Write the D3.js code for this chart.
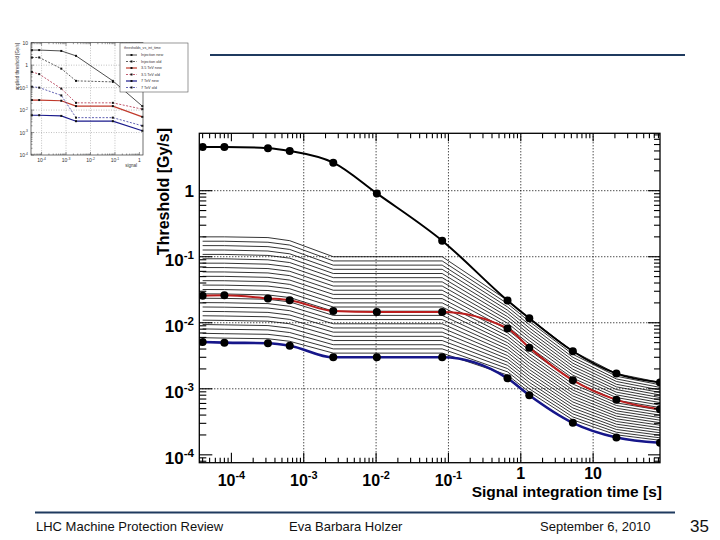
<!DOCTYPE html>
<html><head><meta charset="utf-8">
<script src="https://cdn.jsdelivr.net/npm/d3@7"></script>
<style>body{margin:0;background:#fff}svg{display:block}text{font-family:"Liberation Sans",Arial,sans-serif}</style>
</head><body><svg id="c" width="720" height="540"></svg>
<script>
// ---------- DATA ----------
// BLM running-sum integration times [s]
const times = [4e-5, 8e-5, 3.2e-4, 6.4e-4, 2.56e-3, 1.024e-2, 8.192e-2, 0.65536, 1.31072, 5.24288, 20.97152, 83.88608];
const topSeries  = [4.6, 4.6, 4.4, 4.0, 2.66, 0.91, 0.175, 0.0218, 0.0117, 0.0037, 0.0017, 0.00125];
const redSeries  = [0.0257, 0.026, 0.0234, 0.022, 0.0151, 0.0146, 0.0146, 0.0082, 0.0042, 0.00135, 0.00068, 0.00049];
const blueSeries = [0.0051, 0.0050, 0.0049, 0.0045, 0.0030, 0.0030, 0.0030, 0.00144, 0.0008, 0.000305, 0.000183, 0.000152];
// thin threshold lines (energy levels), values per integration time, lowest to highest
const bundle_40us  = [0.00594,0.00692,0.00807,0.0094,0.01095,0.01276,0.01487,0.01733,0.0202,0.0235,0.0274,0.0319,0.0372,0.0434,0.0505,0.0589,0.0686,0.0799,0.0931,0.1085,0.1264,0.1473,0.1717,0.2];
const bundle_80us  = [0.00585,0.00683,0.00797,0.0093,0.01085,0.01266,0.01477,0.01723,0.0201,0.0234,0.0273,0.0318,0.0371,0.0433,0.0504,0.0588,0.0685,0.0798,0.093,0.1084,0.1263,0.1472,0.1716,0.2];
const bundle_320us = [0.00573,0.00668,0.00779,0.00907,0.01057,0.01231,0.01435,0.01672,0.0195,0.0227,0.0264,0.0308,0.0359,0.0419,0.0487,0.0568,0.0662,0.0771,0.0898,0.1047,0.122,0.1421,0.1657,0.195];
const bundle_640us = [0.00524,0.00611,0.00711,0.00828,0.00965,0.01124,0.01309,0.01524,0.01776,0.0207,0.0241,0.0281,0.0327,0.0381,0.0443,0.0517,0.0602,0.0701,0.0816,0.0951,0.1107,0.129,0.1502,0.175];
const bundle_2ms   = [0.00347,0.00402,0.00465,0.00538,0.00623,0.00721,0.00834,0.00965,0.01117,0.01293,0.01496,0.01732,0.02,0.0232,0.0269,0.0311,0.036,0.0416,0.0482,0.0557,0.0645,0.0746,0.0864,0.1];
const bundle_10ms  = [0.00347,0.00402,0.00465,0.00538,0.00623,0.00721,0.00834,0.00965,0.01117,0.01293,0.01496,0.01732,0.02,0.0232,0.0269,0.0311,0.036,0.0416,0.0482,0.0557,0.0645,0.0746,0.0864,0.1];
const bundle_82ms  = [0.00347,0.00402,0.00465,0.00538,0.00623,0.00721,0.00834,0.00965,0.01117,0.01293,0.01496,0.01732,0.02,0.0232,0.0269,0.0311,0.036,0.0416,0.0482,0.0557,0.0645,0.0746,0.0864,0.1];
const bundle_655ms = [0.001613,0.001806,0.002023,0.002265,0.002537,0.002841,0.003181,0.003563,0.00399,0.00447,0.005,0.0056,0.00628,0.00703,0.00787,0.00881,0.00987,0.01105,0.01238,0.01386,0.01552,0.01739,0.01947,0.0218];
const bundle_1s    = [0.000895,0.001,0.00112,0.00125,0.0014,0.00156,0.00175,0.00196,0.00219,0.00245,0.00274,0.00306,0.00342,0.00383,0.00428,0.00478,0.00535,0.00598,0.00669,0.00748,0.00837,0.00936,0.01046,0.0117];
const bundle_5s    = [0.000338,0.000375,0.000417,0.000462,0.000513,0.000569,0.000632,0.000701,0.000778,0.000863,0.000957,0.00106,0.00118,0.00131,0.00145,0.00161,0.00179,0.00198,0.0022,0.00244,0.00271,0.003,0.00333,0.0037];
const bundle_21s   = [0.000201,0.00022,0.000242,0.000265,0.000291,0.00032,0.000351,0.000385,0.000422,0.000463,0.000508,0.000558,0.000612,0.000672,0.000737,0.000809,0.000888,0.000974,0.00107,0.00117,0.00129,0.00141,0.00155,0.0017];
const bundle_84s   = [0.000166,0.000181,0.000198,0.000216,0.000236,0.000257,0.000281,0.000307,0.000335,0.000366,0.000399,0.000436,0.000476,0.00052,0.000567,0.000619,0.000676,0.000738,0.000806,0.00088,0.00096,0.00105,0.00115,0.00125];

const xTickValues = [1e-4, 1e-3, 1e-2, 1e-1, 1, 10];
const xTickBase   = ["10","10","10","10","1","10"];
const xTickExp    = ["-4","-3","-2","-1","",""];
const yTickValues = [1e-4, 1e-3, 1e-2, 1e-1, 1];
const yTickBase   = ["10","10","10","10","1"];
const yTickExp    = ["-4","-3","-2","-1",""];
const xTitle = "Signal integration time [s]";
const yTitle = "Threshold [Gy/s]";
const footerTexts = ["LHC Machine Protection Review", "Eva Barbara Holzer", "September 6, 2010", "35"];

// thumbnail (inset) data
const insetTimes   = [4e-5, 8e-5, 6.4e-4, 2.56e-3, 8.192e-2, 1.31072];
const insetInjNew  = [4.7, 4.7, 4.3, 2.6, 0.2, 0.015];
const insetInjOld  = [2.2, 2.2, 0.7, 0.2, 0.18, null];
const inset35New   = [0.028, 0.028, 0.026, 0.015, 0.015, 0.005];
const inset35Old   = [0.5, 0.4, 0.09, 0.021, 0.021, 0.011];
const inset7New    = [0.0059, 0.0059, 0.0055, 0.0032, 0.0032, 0.0012];
const inset7Old    = [0.11, 0.1, 0.045, 0.0046, 0.0046, 0.002];
const insetNames   = ["Injection new","Injection old","3.5 TeV new","3.5 TeV old","7 TeV new","7 TeV old"];
const insetLegendTitle = "thresholds_vs_int_time";
const insetXTicks = [1e-4, 1e-3, 1e-2, 1e-1, 1];
const insetXBase  = ["10","10","10","10","1"];
const insetXExp   = ["-4","-3","-2","-1",""];
const insetYTicks = [1e-4, 1e-3, 1e-2, 1e-1, 1, 10];
const insetYBase  = ["10","10","10","10","1","10"];
const insetYExp   = ["-4","-3","-2","-1","",""];

// ---------- DRAW ----------
const svg = d3.select("#c");
svg.append("rect").attr("width",720).attr("height",540).attr("fill","#fff");

const NAVY = "#1f3a5f";
svg.append("line").attr("x1",210).attr("x2",685).attr("y1",55).attr("y2",55).attr("stroke",NAVY).attr("stroke-width",2);

function powLabel(g, px, py, base, exp, size, anchor, weight){
  const t = g.append("text").attr("x",px).attr("y",py).attr("text-anchor",anchor)
    .attr("font-size",size).attr("font-weight",weight||"bold").attr("fill","#000");
  t.append("tspan").text(base);
  if (exp) t.append("tspan").attr("dy",-size*0.42).attr("font-size",size*0.68).text(exp);
  return t;
}

const L=199.3, R=660, T=133.3, B=462.7;
const x = d3.scaleLog().domain([3.6e-5, 84]).range([L, R]);
const y = d3.scaleLog().domain([7.6e-5, 7.4]).range([B, T]);

svg.append("clipPath").attr("id","clip").append("rect").attr("x",L).attr("y",T).attr("width",R-L).attr("height",B-T);
const plot = svg.append("g");

// grid
plot.selectAll(".gx").data(xTickValues.filter(v=>v>=1e-3)).enter().append("line")
  .attr("x1",d=>x(d)).attr("x2",d=>x(d)).attr("y1",T).attr("y2",B)
  .attr("stroke","#000").attr("stroke-width",1).attr("stroke-dasharray","1,2");
plot.selectAll(".gy").data(yTickValues.filter(v=>v>=1e-3)).enter().append("line")
  .attr("y1",d=>y(d)).attr("y2",d=>y(d)).attr("x1",L).attr("x2",R)
  .attr("stroke","#000").attr("stroke-width",1).attr("stroke-dasharray","1,2");

const data = plot.append("g").attr("clip-path","url(#clip)");
const cols = [bundle_40us,bundle_80us,bundle_320us,bundle_640us,bundle_2ms,bundle_10ms,bundle_82ms,bundle_655ms,bundle_1s,bundle_5s,bundle_21s,bundle_84s];
const nThin = bundle_40us.length;
const thinLines = d3.range(nThin).map(k => times.map((t,i)=>[t, cols[i][k]]));
const lineLin = d3.line().x(d=>x(d[0])).y(d=>y(d[1]));
const lineSmooth = d3.line().x(d=>x(d[0])).y(d=>y(d[1])).curve(d3.curveMonotoneX);
data.selectAll(".thin").data(thinLines).enter().append("path")
  .attr("d",lineLin).attr("fill","none").attr("stroke","#000").attr("stroke-width",0.8);

const series = [
  {v: blueSeries, c:"#16168a", w:2.6},
  {v: redSeries,  c:"#bb1e1e", w:2},
  {v: topSeries,  c:"#000",    w:2}
];
series.forEach(s=>{
  const pts = times.map((t,i)=>[t,s.v[i]]);
  data.append("path").attr("d",lineSmooth(pts)).attr("fill","none").attr("stroke",s.c).attr("stroke-width",s.w);
});
series.forEach(s=>{
  const pts = times.map((t,i)=>[t,s.v[i]]);
  data.selectAll(null).data(pts).enter().append("circle")
    .attr("cx",d=>x(d[0])).attr("cy",d=>y(d[1])).attr("r",4).attr("fill","#000");
});

// frame
plot.append("rect").attr("x",L).attr("y",T).attr("width",R-L).attr("height",B-T)
  .attr("fill","none").attr("stroke","#000").attr("stroke-width",1.3);

const isMajor = v => Math.abs(Math.log10(v) - Math.round(Math.log10(v))) < 1e-6;
const ax = plot.append("g").attr("stroke","#000").attr("stroke-width",1.1);
x.ticks().forEach(v=>{
  const px = x(v), len = isMajor(v)?10:5;
  ax.append("line").attr("x1",px).attr("x2",px).attr("y1",B).attr("y2",B-len);
  ax.append("line").attr("x1",px).attr("x2",px).attr("y1",T).attr("y2",T+(isMajor(v)?8:5));
});
y.ticks().forEach(v=>{
  const py = y(v), maj = isMajor(v);
  if (v <= 1.0001) ax.append("line").attr("x1",L).attr("x2",L+(maj?13:7)).attr("y1",py).attr("y2",py);
  ax.append("line").attr("x1",R).attr("x2",R-(maj?12:6)).attr("y1",py).attr("y2",py);
});

// tick labels
xTickValues.forEach((v,i)=> powLabel(plot, x(v), xTickExp[i] ? 486 : 479, xTickBase[i], xTickExp[i], 16, "middle"));
yTickValues.forEach((v,i)=> powLabel(plot, 194, y(v) + (yTickExp[i] ? 9.5 : 6), yTickBase[i], yTickExp[i], 17, "end"));

// titles
plot.append("text").attr("x",R+2).attr("y",497).attr("text-anchor","end")
  .attr("font-size",15.5).attr("font-weight","bold").text(xTitle);
plot.append("text").attr("transform","translate(169,128) rotate(-90)").attr("text-anchor","end")
  .attr("font-size",16).attr("font-weight","bold").text(yTitle);

// ---------- inset thumbnail ----------
const ins = svg.append("g");
const iL=31, iR=143, iT=42.7, iB=155;
const ix = d3.scaleLog().domain([3.7e-5, 1.4]).range([iL, iR]);
const iy = d3.scaleLog().domain([1e-4, 10]).range([iB, iT]);
ins.selectAll(".igx").data(insetXTicks.filter(v=>v<1)).enter().append("line")
  .attr("x1",d=>ix(d)).attr("x2",d=>ix(d)).attr("y1",iT).attr("y2",iB)
  .attr("stroke","#999").attr("stroke-width",0.6).attr("stroke-dasharray","1,1.5");
ins.selectAll(".igy").data(insetYTicks.filter(v=>v>1e-4 && v<10)).enter().append("line")
  .attr("y1",d=>iy(d)).attr("y2",d=>iy(d)).attr("x1",iL).attr("x2",iR)
  .attr("stroke","#999").attr("stroke-width",0.6).attr("stroke-dasharray","1,1.5");
const iseries = [
  {v:insetInjNew, c:"#222", d:null},
  {v:insetInjOld, c:"#333", d:"2,1.5"},
  {v:inset35New,  c:"#c0392b", d:null, w:1.2},
  {v:inset35Old,  c:"#b0304a", d:"2,1.5"},
  {v:inset7New,   c:"#1a1a8c", d:null, w:1.2},
  {v:inset7Old,   c:"#3a3aa0", d:"2,1.5"}
];
const iline = d3.line().defined(d=>d[1]!=null).x(d=>ix(d[0])).y(d=>iy(d[1]));
iseries.forEach(s=>{
  const pts = insetTimes.map((t,i)=>[t,s.v[i]]);
  ins.append("path").attr("d",iline(pts)).attr("fill","none").attr("stroke",s.c)
    .attr("stroke-width",s.w||0.8).attr("stroke-dasharray",s.d);
  ins.selectAll(null).data(pts.filter(d=>d[1]!=null)).enter().append("rect")
    .attr("x",d=>ix(d[0])-1).attr("y",d=>iy(d[1])-1).attr("width",2).attr("height",2).attr("fill","#111");
});
ins.append("rect").attr("x",iL).attr("y",iT).attr("width",iR-iL).attr("height",iB-iT)
  .attr("fill","none").attr("stroke","#333").attr("stroke-width",0.7);
ix.ticks().forEach(v=>{
  const l = isMajor(v)?3:1.5;
  ins.append("line").attr("x1",ix(v)).attr("x2",ix(v)).attr("y1",iB).attr("y2",iB-l).attr("stroke","#333").attr("stroke-width",0.5);
  ins.append("line").attr("x1",ix(v)).attr("x2",ix(v)).attr("y1",iT).attr("y2",iT+l).attr("stroke","#333").attr("stroke-width",0.5);
});
iy.ticks().forEach(v=>{
  const l = isMajor(v)?3:1.5;
  ins.append("line").attr("x1",iL).attr("x2",iL+l).attr("y1",iy(v)).attr("y2",iy(v)).attr("stroke","#333").attr("stroke-width",0.5);
});
insetXTicks.forEach((v,i)=> powLabel(ins, ix(v), 162, insetXBase[i], insetXExp[i], 5, "middle", "normal").attr("fill","#333"));
insetYTicks.forEach((v,i)=> powLabel(ins, 28, iy(v)+2, insetYBase[i], insetYExp[i], 5, "end", "normal").attr("fill","#333"));
ins.append("text").attr("transform","translate(19,43) rotate(-90)").attr("text-anchor","end")
  .attr("font-size",4.5).attr("fill","#333").text("applied threshold [Gy/s]");
ins.append("text").attr("x",137).attr("y",166.5).attr("text-anchor","end").attr("font-size",4.5).attr("fill","#333").text("signal");
// inset legend
const lg = ins.append("g");
lg.append("rect").attr("x",120).attr("y",43).attr("width",68).attr("height",49).attr("fill","#fff").attr("stroke","#555").attr("stroke-width",0.6);
lg.append("text").attr("x",124).attr("y",48.5).attr("font-size",3.6).attr("fill","#333").text(insetLegendTitle);
insetNames.forEach((n,i)=>{
  const yy = 55 + i*6.5;
  const s = iseries[i];
  lg.append("line").attr("x1",126).attr("x2",137).attr("y1",yy).attr("y2",yy).attr("stroke",s.c)
    .attr("stroke-width",s.w||0.8).attr("stroke-dasharray",s.d);
  lg.append("rect").attr("x",130.5).attr("y",yy-1).attr("width",2).attr("height",2).attr("fill","#111");
  lg.append("text").attr("x",141).attr("y",yy+1.3).attr("font-size",3.8).attr("fill","#333").text(n);
});

// ---------- footer ----------
svg.append("line").attr("x1",35).attr("x2",675).attr("y1",512.5).attr("y2",512.5).attr("stroke",NAVY).attr("stroke-width",2);
const fx = [36, 289, 540, 690];
const fs = [13, 13, 13, 17];
footerTexts.forEach((t,i)=> svg.append("text").attr("x",fx[i]).attr("y",i===3?532:531)
  .attr("font-size",fs[i]).attr("fill","#111").text(t));
</script></body></html>
